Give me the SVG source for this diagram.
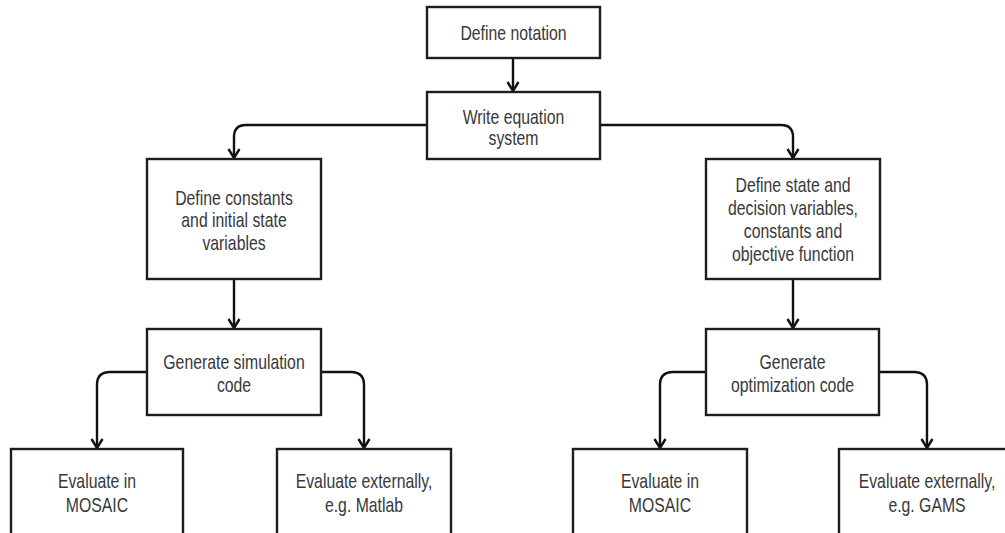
<svg xmlns="http://www.w3.org/2000/svg" width="1005" height="533" viewBox="0 0 1005 533">
  <style>
    .box { fill: #ffffff; stroke: #1e1e1e; stroke-width: 2.4; }
    .lbl { font-family: "Liberation Sans", Arial, sans-serif; font-size: 20px; fill: #383838; text-anchor: middle; }
    .edge { fill: none; stroke: #111111; stroke-width: 2.4; marker-end: url(#open-arrow); }
  </style>
  <defs>
    <marker id="open-arrow" markerUnits="userSpaceOnUse" viewBox="-12 -8 14 16" markerWidth="14" markerHeight="16" refX="0" refY="0" orient="auto">
      <path d="M-9,-5.5 L0,0 L-9,5.5" fill="none" stroke="#111111" stroke-width="2.4" stroke-linejoin="miter"/>
    </marker>
  </defs>

  <rect width="1005" height="533" fill="#ffffff"/>

  <!-- connectors -->
  <g id="connectors">
    <path class="edge" d="M513,58 V91"/>
    <path class="edge" d="M427,125 H246 Q234,125 234,137 V158"/>
    <path class="edge" d="M600,125 H781 Q793,125 793,137 V158"/>
    <path class="edge" d="M234,279 V328"/>
    <path class="edge" d="M793,279 V328"/>
    <path class="edge" d="M147,372 H110 Q97,372 97,385 V448"/>
    <path class="edge" d="M321,372 H351 Q364,372 364,385 V448"/>
    <path class="edge" d="M706,372 H673 Q660,372 660,385 V448"/>
    <path class="edge" d="M879,372 H914 Q927,372 927,385 V448"/>
  </g>

  <!-- nodes -->
  <g id="define-notation">
    <rect class="box" x="427" y="7" width="173" height="51"/>
    <g transform="translate(513.5,0) scale(0.79,1)">
      <text class="lbl" x="0" y="40">Define notation</text>
    </g>
  </g>

  <g id="write-equation-system">
    <rect class="box" x="427" y="92" width="173" height="67"/>
    <g transform="translate(513.5,0) scale(0.79,1)">
      <text class="lbl" x="0" y="124">Write equation</text>
      <text class="lbl" x="0" y="145.5">system</text>
    </g>
  </g>

  <g id="define-constants">
    <rect class="box" x="147" y="159" width="174" height="120"/>
    <g transform="translate(234,0) scale(0.79,1)">
      <text class="lbl" x="0" y="205">Define constants</text>
      <text class="lbl" x="0" y="227.5">and initial state</text>
      <text class="lbl" x="0" y="250">variables</text>
    </g>
  </g>

  <g id="define-state">
    <rect class="box" x="706" y="159" width="174" height="120"/>
    <g transform="translate(793,0) scale(0.79,1)">
      <text class="lbl" x="0" y="192">Define state and</text>
      <text class="lbl" x="0" y="215">decision variables,</text>
      <text class="lbl" x="0" y="238">constants and</text>
      <text class="lbl" x="0" y="261">objective function</text>
    </g>
  </g>

  <g id="generate-simulation">
    <rect class="box" x="147" y="329" width="174" height="86"/>
    <g transform="translate(234,0) scale(0.79,1)">
      <text class="lbl" x="0" y="369">Generate simulation</text>
      <text class="lbl" x="0" y="392">code</text>
    </g>
  </g>

  <g id="generate-optimization">
    <rect class="box" x="706" y="329" width="173" height="86"/>
    <g transform="translate(792.5,0) scale(0.79,1)">
      <text class="lbl" x="0" y="369">Generate</text>
      <text class="lbl" x="0" y="392">optimization code</text>
    </g>
  </g>

  <g id="sim-mosaic">
    <rect class="box" x="11" y="449" width="172" height="100"/>
    <g transform="translate(97,0) scale(0.79,1)">
      <text class="lbl" x="0" y="488">Evaluate in</text>
      <text class="lbl" x="0" y="512">MOSAIC</text>
    </g>
  </g>

  <g id="sim-external">
    <rect class="box" x="277" y="449" width="174" height="100"/>
    <g transform="translate(364,0) scale(0.79,1)">
      <text class="lbl" x="0" y="488">Evaluate externally,</text>
      <text class="lbl" x="0" y="512">e.g. Matlab</text>
    </g>
  </g>

  <g id="opt-mosaic">
    <rect class="box" x="573" y="449" width="174" height="100"/>
    <g transform="translate(660,0) scale(0.79,1)">
      <text class="lbl" x="0" y="488">Evaluate in</text>
      <text class="lbl" x="0" y="512">MOSAIC</text>
    </g>
  </g>

  <g id="opt-external">
    <rect class="box" x="839" y="449" width="176" height="100"/>
    <g transform="translate(927,0) scale(0.79,1)">
      <text class="lbl" x="0" y="488">Evaluate externally,</text>
      <text class="lbl" x="0" y="512">e.g. GAMS</text>
    </g>
  </g>
</svg>
